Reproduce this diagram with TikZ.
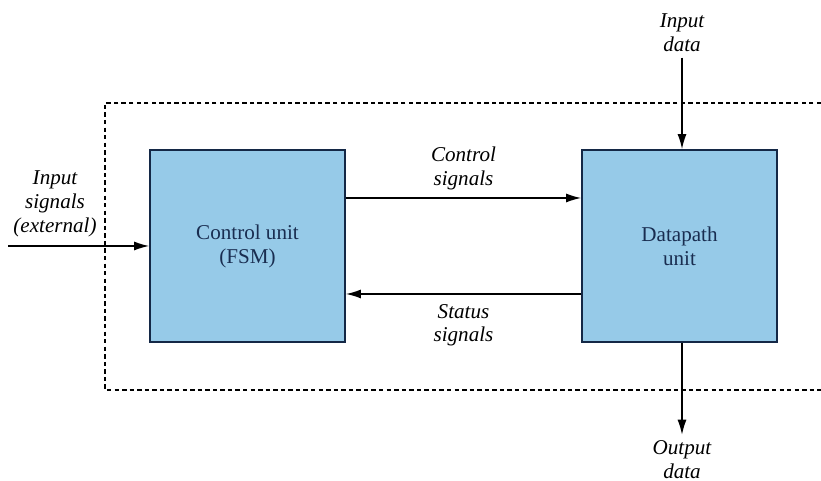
\documentclass[tikz,border=0pt]{standalone}
\usepackage{fontspec}
\setmainfont{Liberation Serif}
\usepackage{tikz}
\usetikzlibrary{positioning,arrows.meta}

\definecolor{boxfill}{RGB}{150,202,232}
\definecolor{boxline}{RGB}{20,40,70}
\definecolor{boxtext}{RGB}{25,45,80}

\begin{document}
\begin{tikzpicture}[
    font=\fontsize{12}{13.6}\selectfont,
    ublock/.style={draw=boxline, line width=1pt, fill=boxfill,
                   minimum width=3.9cm, minimum height=3.84cm,
                   align=center, text=boxtext},
    lbl/.style={font=\fontsize{12}{13.6}\selectfont\itshape, align=center},
    sigarr/.style={-{Latex[length=3mm,width=1.8mm]}, line width=0.8pt},
    frame/.style={line width=0.7pt, dash pattern=on 2.5pt off 1.8pt}
  ]
    \useasboundingbox (0,0) rectangle (16.42,9.62);
    % system border
    \draw[frame] (16.42,7.56) -- (2.1,7.56) -- (2.1,1.82) -- (16.42,1.82);
    \node[ublock] (CU) at (4.95,4.70) {Control unit\\(FSM)};
    \node[ublock] (DP) at (13.59,4.70) {Datapath\\unit};
    \draw[sigarr] ([yshift=0.96cm]CU.east) -- ([yshift=0.96cm]DP.west)
      node[midway, above=1pt, lbl] {Control\\signals};
    \draw[sigarr] ([yshift=-0.96cm]DP.west) -- ([yshift=-0.96cm]CU.east)
      node[midway, below=2pt, lbl] {Status\\signals};
    % external inputs / outputs
    \node[lbl] (INS) at (1.1,5.54) {Input\\signals\\(external)};
    \coordinate (INA) at (0.16,4.70);
    \draw[sigarr] (INA) -- (CU.west);
    \node[lbl] (IND) at (13.64,8.97) {Input\\data};
    \draw[sigarr] (IND) -- (IND |- DP.north);
    \node[lbl] (OUTD) at (13.64,0.42) {Output\\data};
    \draw[sigarr] (OUTD |- DP.south) -- (OUTD);
  \end{tikzpicture}
\end{document}
